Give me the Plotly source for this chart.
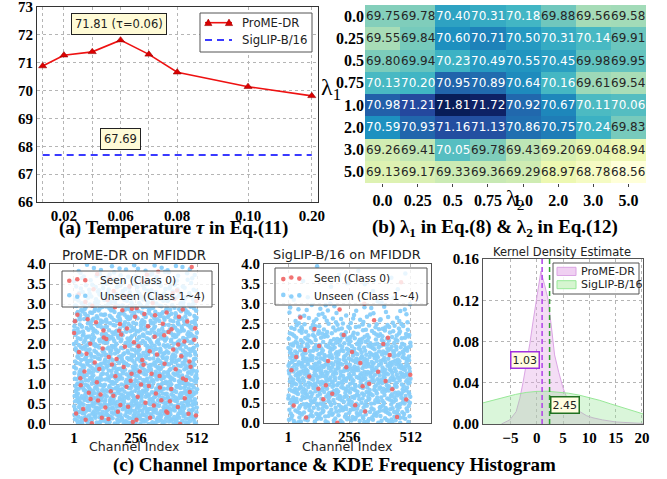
import plotly.graph_objects as go

W, H = 667, 479
def px(x): return x / W
def py(y): return 1 - y / H

SERIF = "Liberation Serif"
SANS = "DejaVu Sans"

# ---------------- Panel (a) data ----------------
tau_values = ["0.01", "0.02", "0.04", "0.06", "0.07", "0.08", "0.10", "0.20"]
tau_tick_text = ["", "0.02", "", "0.06", "", "0.08", "0.10", "0.20"]
prome_acc = [70.88, 71.27, 71.39, 71.81, 71.30, 70.66, 70.14, 69.81]
siglip_acc = 67.69
# axis slot used for each tau (layout of the non-uniform x axis)
tau_slot = [0.25, 1, 2, 3, 4, 5, 7.5, 9.75]

# ---------------- Panel (b) data ----------------
lambda1_labels = ["0.0", "0.25", "0.5", "0.75", "1.0", "2.0", "3.0", "5.0"]
lambda2_labels = ["0.0", "0.25", "0.5", "0.75", "1.0", "2.0", "3.0", "5.0"]
heat_row_00 = [69.75, 69.78, 70.40, 70.31, 70.18, 69.88, 69.56, 69.58]
heat_row_025 = [69.55, 69.84, 70.60, 70.71, 70.50, 70.31, 70.14, 69.91]
heat_row_05 = [69.80, 69.94, 70.23, 70.49, 70.55, 70.45, 69.98, 69.95]
heat_row_075 = [70.13, 70.20, 70.95, 70.89, 70.64, 70.16, 69.61, 69.54]
heat_row_10 = [70.98, 71.21, 71.81, 71.72, 70.92, 70.67, 70.11, 70.06]
heat_row_20 = [70.59, 70.93, 71.16, 71.13, 70.86, 70.75, 70.24, 69.83]
heat_row_30 = [69.26, 69.41, 70.05, 69.78, 69.43, 69.20, 69.04, 68.94]
heat_row_50 = [69.13, 69.17, 69.33, 69.36, 69.29, 68.97, 68.78, 68.56]
heat_vals = [heat_row_00, heat_row_025, heat_row_05, heat_row_075,
             heat_row_10, heat_row_20, heat_row_30, heat_row_50]

# ---------------- Panel (c) data ----------------
# point counts per 0.25-wide importance bin (0.0 -> 4.0)
importance_bin = 0.25
prome_unseen_counts = [124, 124, 120, 115, 107, 100, 95, 93, 90, 85, 81, 75, 55, 45, 32, 24]
prome_seen_counts = [10, 10, 9, 9, 9, 9, 8, 8, 9, 9, 9, 9, 7, 5, 3, 3]
siglip_unseen_counts = [78, 82, 90, 95, 105, 108, 100, 88, 70, 55, 30, 20, 7, 5, 4, 3]
siglip_seen_counts = [3, 3, 3, 4, 4, 4, 3, 3, 2, 2, 2, 1, 1, 0, 1, 0]
channel_first, channel_last = 1, 512
channel_ticks = [1, 256, 512]

# KDE curves
kde_prome_x = [-6.7, -5.1, -3.9, -3.2, -2.6, -2.0, -1.3, -0.7, -0.1, 0.3, 0.8, 1.5, 2.15,
               2.8, 3.4, 4.2, 5.0, 6.0, 7.0, 8.2, 9.5, 10.7, 12.5, 15.0, 17.5, 20.2]
kde_prome_y = [0.0, 0.004, 0.012, 0.025, 0.040, 0.057, 0.078, 0.099, 0.120, 0.134, 0.148, 0.135, 0.121,
               0.094, 0.067, 0.050, 0.035, 0.022, 0.016, 0.012, 0.008, 0.006, 0.004, 0.002, 0.001, 0.0005]
kde_siglip_x = [-10.2, -8, -6, -4, -2, 0, 2, 4, 6, 8, 10, 12, 14, 16, 18, 20.2]
kde_siglip_y = [0.0205, 0.0235, 0.0262, 0.0287, 0.0306, 0.0316, 0.0318, 0.0312, 0.0299,
                0.0281, 0.0258, 0.0229, 0.0196, 0.0163, 0.0131, 0.0098]
prome_mean = 1.03
siglip_mean = 2.45

# colours
C_RED_LINE, C_BLUE_DASH = "#ee1111", "#3a3aff"
C_UNSEEN, C_SEEN = "rgba(135,206,250,0.95)", "rgba(240,100,100,0.9)"
C_PINK_LINE, C_PINK_FILL = "#dba4e4", "rgba(225,165,230,0.38)"
C_GREEN_LINE, C_GREEN_FILL = "#98e898", "rgba(150,230,150,0.35)"


def halton(i, b):
    f, r = 1.0, 0.0
    while i > 0:
        f /= b
        r += f * (i % b)
        i //= b
    return r


def cloud(counts, start, leap=1):
    """Low-discrepancy (leaped Halton) layout; the vertical density follows the bin counts."""
    total = sum(counts)
    cum = [0]
    for c in counts:
        cum.append(cum[-1] + c)
    xs, ys = [], []
    for n in range(total):
        idx = start + n * leap + 1
        xs.append(channel_first + (channel_last - channel_first) * halton(idx, 2))
        t = halton(idx, 3) * total
        k = 0
        while k < len(counts) - 1 and (cum[k + 1] <= t or counts[k] == 0):
            k += 1
        ys.append((k + (t - cum[k]) / counts[k]) * importance_bin)
    return xs, ys


fig = go.Figure()

# ---------- (a) ----------
fig.add_trace(go.Scatter(
    x=tau_slot, y=prome_acc, mode="lines+markers", name="ProME-DR",
    line=dict(color=C_RED_LINE, width=1.6),
    marker=dict(symbol="triangle-up", size=7, color="#dd0000", line=dict(color="#990000", width=0.6)),
    xaxis="x", yaxis="y"))
fig.add_trace(go.Scatter(
    x=[tau_slot[0], tau_slot[-1]], y=[siglip_acc, siglip_acc], mode="lines", name="SigLIP-B/16",
    line=dict(color=C_BLUE_DASH, width=2, dash="7px,5px"), xaxis="x", yaxis="y"))

# ---------- (b) ----------
ylgnbu = [[0.0, "#ffffd9"], [0.125, "#edf8b1"], [0.25, "#c7e9b4"], [0.375, "#7fcdbb"],
          [0.5, "#41b6c4"], [0.625, "#1d91c0"], [0.75, "#225ea8"], [0.875, "#253494"], [1.0, "#081d58"]]
flat = [v for r in heat_vals for v in r]
col_idx = list(range(len(lambda2_labels)))
row_idx = list(range(len(lambda1_labels)))
fig.add_trace(go.Heatmap(
    z=heat_vals, x=col_idx, y=row_idx, colorscale=ylgnbu,
    zmin=min(flat), zmax=max(flat), showscale=False, xaxis="x2", yaxis="y2", hoverinfo="skip"))

# ---------- (c) scatters ----------
for (unseen, seen, xa, ya, st) in [
        (prome_unseen_counts, prome_seen_counts, "x3", "y3", 0),
        (siglip_unseen_counts, siglip_seen_counts, "x4", "y4", 3000)]:
    bx, by = cloud(unseen, st)
    rx, ry = cloud(seen, st + 20000, leap=409)
    fig.add_trace(go.Scatter(
        x=bx, y=by, mode="markers", name="Unseen (Class 1~4)",
        marker=dict(size=4.5, color=C_UNSEEN, line=dict(width=0)), xaxis=xa, yaxis=ya))
    fig.add_trace(go.Scatter(
        x=rx, y=ry, mode="markers", name="Seen (Class 0)",
        marker=dict(size=4.5, color=C_SEEN, line=dict(width=0)), xaxis=xa, yaxis=ya))

# ---------- (c) KDE ----------
fig.add_trace(go.Scatter(
    x=kde_prome_x, y=kde_prome_y, mode="lines", fill="tozeroy", name="ProME-DR",
    line=dict(color=C_PINK_LINE, width=1), fillcolor=C_PINK_FILL, xaxis="x5", yaxis="y5"))
fig.add_trace(go.Scatter(
    x=kde_siglip_x, y=kde_siglip_y, mode="lines", fill="tozeroy", name="SigLIP-B/16",
    line=dict(color=C_GREEN_LINE, width=1), fillcolor=C_GREEN_FILL, xaxis="x5", yaxis="y5"))

tickfont = dict(family=SERIF, size=15, color="black", weight="bold")
grid = dict(showgrid=True, gridcolor="#b5b5b5", griddash="dot", gridwidth=1, zeroline=False,
            showline=True, mirror=True, linewidth=1, ticks="", automargin=False,
            ticklabeloverflow="allow")
hfont = dict(family=SERIF, size=16, color="black", weight="bold")

fig.update_layout(
    width=W, height=H, margin=dict(l=0, r=0, t=0, b=0, autoexpand=False),
    paper_bgcolor="white", plot_bgcolor="white", showlegend=False,
    xaxis=dict(domain=[px(37), px(318)], range=[0.05, 9.97], tickvals=tau_slot, ticktext=tau_tick_text,
               anchor="y", tickfont=tickfont, linecolor="#333333", **grid),
    yaxis=dict(domain=[py(202), py(7)], range=[66, 73], dtick=1, anchor="x",
               tickfont=tickfont, linecolor="#333333", **grid),
    xaxis2=dict(domain=[px(365), px(646)], range=[-0.5, 7.5], tickvals=col_idx, ticktext=lambda2_labels,
                anchor="y2", showgrid=False, zeroline=False, showline=False, ticks="outside", ticklen=3,
                tickcolor="#444", tickfont=hfont, automargin=False, ticklabeloverflow="allow"),
    yaxis2=dict(domain=[py(183), py(5)], range=[7.5, -0.5], tickvals=row_idx, ticktext=lambda1_labels,
                anchor="x2", showgrid=False, zeroline=False, showline=False, ticks="",
                tickfont=hfont, automargin=False, ticklabeloverflow="allow"),
    xaxis3=dict(domain=[px(50), px(218)], range=[-98, 598], tickvals=channel_ticks, anchor="y3",
                tickfont=tickfont, linecolor="#555555", **grid),
    yaxis3=dict(domain=[py(424), py(264)], range=[0, 4], dtick=0.5, tickformat=".1f", anchor="x3",
                tickfont=tickfont, linecolor="#555555", **grid),
    xaxis4=dict(domain=[px(264), px(431)], range=[-100, 597], tickvals=channel_ticks, anchor="y4",
                tickfont=tickfont, linecolor="#555555", **grid),
    yaxis4=dict(domain=[py(423), py(264)], range=[0, 4], dtick=0.5, tickformat=".1f", anchor="x4",
                tickfont=tickfont, linecolor="#555555", **grid),
    xaxis5=dict(domain=[px(483), px(643)], range=[-10.2, 20.2], tickvals=[-5, 0, 5, 10, 15, 20],
                anchor="y5", tickfont=tickfont, linecolor="#555555", **grid),
    yaxis5=dict(domain=[py(424), py(259)], range=[0, 0.16], tickvals=[0, 0.04, 0.08, 0.12, 0.16],
                tickformat=".2f", anchor="x5", tickfont=tickfont, linecolor="#555555", **grid),
)

ann = []
shapes = []
box = dict(showarrow=False, xanchor="center", yanchor="middle")

# heatmap cell text
for i, row in enumerate(heat_vals):
    for j, v in enumerate(row):
        ann.append(dict(x=col_idx[j], y=row_idx[i], xref="x2", yref="y2", text=f"{v:.2f}",
                        font=dict(family=SANS, size=12, color="white" if v > 70.0 else "#262626"), **box))

# panel (a) callouts
ann.append(dict(x=tau_slot[3] - 0.05, y=72.4, xref="x", yref="y",
                text=f"{max(prome_acc):.2f} (τ=0.06)", bgcolor="#fffbd6", bordercolor="#222",
                borderwidth=1, borderpad=3, font=dict(family=SANS, size=11.5, color="#222"), **box))
ann.append(dict(x=tau_slot[3], y=68.27, xref="x", yref="y",
                text=f"{siglip_acc:.2f}", bgcolor="#fffbd6", bordercolor="#222",
                borderwidth=1, borderpad=3, font=dict(family=SANS, size=11.5, color="#222"), **box))

# KDE callouts
ann.append(dict(x=-2.3, y=0.062, xref="x5", yref="y5", text=f"{prome_mean:.2f}",
                bgcolor="#fffde0", bordercolor="#a030e0", borderwidth=1.5, borderpad=1,
                font=dict(family=SANS, size=11, color="#222"), **box))
ann.append(dict(x=5.3, y=0.018, xref="x5", yref="y5", text=f"{siglip_mean:.2f}",
                bgcolor="#fffde0", bordercolor="#207020", borderwidth=1.5, borderpad=1,
                font=dict(family=SANS, size=11, color="#222"), **box))

# lambda labels
ann.append(dict(x=px(331), y=py(89), xref="paper", yref="paper",
                text="λ<sub>1</sub>", font=dict(family=SERIF, size=24, color="black"), **box))
ann.append(dict(x=px(515), y=py(199), xref="paper", yref="paper",
                text="λ<sub>2</sub>", font=dict(family=SERIF, size=22, color="black"), **box))

# subplot titles & axis titles for (c)
for (x, y, t, s) in [(134, 256, "ProME-DR on MFIDDR", 13.4), (347, 255, "SigLIP-B/16 on MFIDDR", 12.9),
                     (562, 252, "Kernel Density Estimate", 11.5),
                     (134, 446, "Channel Index", 12.6), (347, 446, "Channel Index", 12.6)]:
    ann.append(dict(x=px(x), y=py(y), xref="paper", yref="paper", text=t,
                    font=dict(family=SANS, size=s, color="#222"), **box))

# captions
for (x, y, t) in [(173, 228, "(a) Temperature <i>τ</i> in Eq.(11)"),
                  (495, 228, "(b) λ<sub>1</sub> in Eq.(8) &amp; λ<sub>2</sub> in Eq.(12)"),
                  (334, 465, "(c) Channel Importance &amp; KDE Frequency Histogram")]:
    ann.append(dict(x=px(x), y=py(y), xref="paper", yref="paper", text=t,
                    font=dict(family=SERIF, size=19, color="black", weight="bold"), **box))


# ---------- hand-drawn legends (matplotlib style) ----------
def legend_frame(x0, y0, x1, y1, fill="rgba(255,255,255,0.85)"):
    shapes.append(dict(type="rect", xref="paper", yref="paper", x0=px(x0), x1=px(x1), y0=py(y1), y1=py(y0),
                       fillcolor=fill, line=dict(color="#555555", width=1), layer="above"))


def legend_text(x, y, t, size):
    ann.append(dict(x=px(x), y=py(y), xref="paper", yref="paper", text=t, showarrow=False,
                    xanchor="left", yanchor="middle", font=dict(family=SANS, size=size, color="#222")))


def dot(x, y, color, r=2.3):
    shapes.append(dict(type="circle", xref="paper", yref="paper", x0=px(x - r), x1=px(x + r),
                       y0=py(y + r), y1=py(y - r), fillcolor=color, line=dict(width=0), layer="above"))


def tri(x, y, s=3.6):
    path = f"M {px(x - s)},{py(y + s * 0.8)} L {px(x + s)},{py(y + s * 0.8)} L {px(x)},{py(y - s)} Z"
    shapes.append(dict(type="path", xref="paper", yref="paper", path=path, fillcolor="#dd0000",
                       line=dict(color="#990000", width=0.6), layer="above"))


def hline(x0, x1, y, color, width, dash=None):
    shapes.append(dict(type="line", xref="paper", yref="paper", x0=px(x0), x1=px(x1), y0=py(y), y1=py(y),
                       line=dict(color=color, width=width, dash=dash), layer="above"))


def patch(x0, y0, x1, y1, fill, edge):
    shapes.append(dict(type="rect", xref="paper", yref="paper", x0=px(x0), x1=px(x1), y0=py(y1), y1=py(y0),
                       fillcolor=fill, line=dict(color=edge, width=1), layer="above"))


# (a)
legend_frame(200, 13, 312, 52, fill="white")
hline(205, 232, 22.7, C_RED_LINE, 1.6)
tri(208.3, 22.7)
tri(229, 22.7)
legend_text(240, 22.7, "ProME-DR", 11.7)
hline(205, 232, 40, C_BLUE_DASH, 2, "7px,5px")
legend_text(240, 40, "SigLIP-B/16", 11.7)

# (c) scatter legends
for (bx0, by0, bx1, by1, dx, tx, r1, r2) in [(62, 271, 212, 307, 69.3, 97.7, 280, 296),
                                              (275, 268, 427, 305, 283.3, 311.7, 278.3, 295.7)]:
    legend_frame(bx0, by0, bx1, by1, fill="rgba(255,255,255,0.8)")
    for k, off in enumerate([0.8, -0.8, 0.3]):
        dot(dx + 8 * k, r1 + off, C_SEEN)
        dot(dx + 8 * k, r2 - off, C_UNSEEN)
    legend_text(tx, r1, "Seen (Class 0)", 10.6)
    legend_text(tx, r2, "Unseen (Class 1~4)", 10.6)

# (c) KDE legend
legend_frame(553, 263, 639, 294)
patch(557, 267.3, 576, 275.5, "rgba(240,208,242,1)", C_PINK_LINE)
legend_text(578.5, 271.4, "ProME-DR", 11)
patch(557, 280.7, 576, 288.7, "rgba(214,245,208,1)", C_GREEN_LINE)
legend_text(578.5, 284.7, "SigLIP-B/16", 11)

# KDE mean lines
shapes.append(dict(type="line", x0=prome_mean, x1=prome_mean, y0=0, y1=1, xref="x5", yref="y5 domain",
                   line=dict(color="#b040e8", width=1.5, dash="5px,3px")))
shapes.append(dict(type="line", x0=siglip_mean, x1=siglip_mean, y0=0, y1=1, xref="x5", yref="y5 domain",
                   line=dict(color="#30a030", width=1.5, dash="5px,3px")))

fig.update_layout(annotations=ann, shapes=shapes)

fig.write_html("out.html", config={"displayModeBar": False},
               post_script="document.body.style.margin='0px';document.body.style.padding='0px';"
                           "document.body.style.overflow='hidden';")
